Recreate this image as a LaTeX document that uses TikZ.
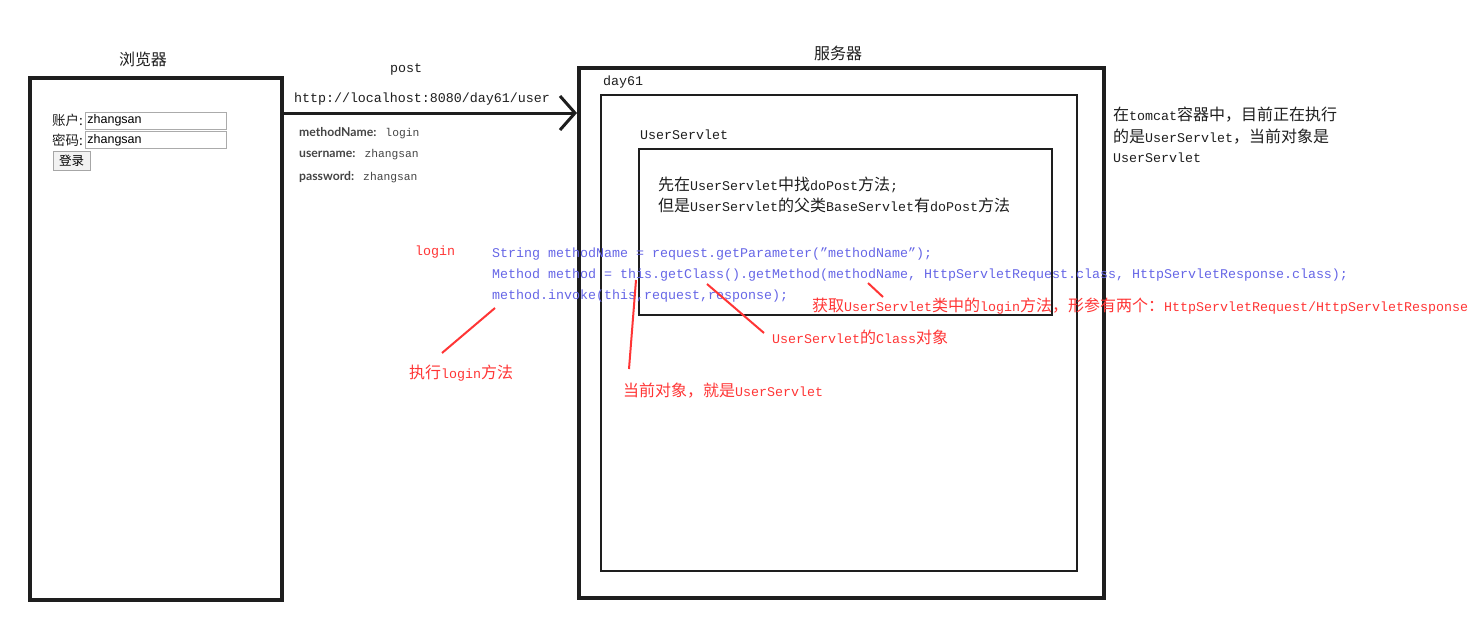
\documentclass[tikz,border=0pt]{standalone}
\usepackage{fontspec}
\setmainfont{Liberation Mono}
\setsansfont{Lato}
\newfontfamily\cjk[Scale=1.2]{Noto Sans CJK SC}
\newfontfamily\formcjk{Noto Sans CJK SC}
\newfontfamily\formfont{Liberation Sans}
\usetikzlibrary{arrows.meta,positioning}
\definecolor{ink}{HTML}{1E1E1E}
\definecolor{codeblue}{HTML}{6666E6}
\definecolor{notered}{HTML}{FF3535}
\definecolor{paramgray}{HTML}{454545}
\definecolor{fieldgray}{HTML}{ABABAB}
\newcommand{\zh}[1]{{\cjk #1}}

\begin{document}
\begin{tikzpicture}[
  x=1pt,y=-1pt,
  line join=miter,
  frame/.style={draw=ink,line width=4pt,fill=none,inner sep=0pt},
  subframe/.style={draw=ink,line width=2.5pt,fill=none,inner sep=0pt},
  label/.style={font=\fontsize{13.33}{16}\selectfont,text=ink,inner sep=0pt},
  lefttext/.style={label,anchor=west},
  code/.style={lefttext,text=codeblue},
  remark/.style={lefttext,text=notered},
  param/.style={anchor=west,inner sep=0pt,text=paramgray,font=\fontsize{11.3}{13}\selectfont},
  field/.style={draw=fieldgray,line width=.8pt,anchor=west,minimum width=141pt,minimum height=17pt,
    inner xsep=2pt,inner ysep=0pt,text width=137pt,align=left,font=\formfont\fontsize{12.5}{14}\selectfont},
  request/.style={draw=ink,line width=3pt,-{Straight Barb[length=15pt,width=34pt]}},
  pointer/.style={draw=notered,line width=2pt}
]
\useasboundingbox (0,0) rectangle (1477,627);

% browser side
\node[frame,minimum width=252pt,minimum height=522pt] (browser) at (156,339) {};
\node[label] (browsertitle) at (143,59) {\zh{浏览器}};
\node[anchor=west,inner sep=0pt,font=\formcjk\fontsize{13.5}{15}\selectfont,text=ink] (acctlbl) at (52,120) {账户:};
\node[anchor=west,inner sep=0pt,font=\formcjk\fontsize{13.5}{15}\selectfont,text=ink] (pwdlbl) at (52,140) {密码:};
\node[field] (acctfield) at (85,120.5) {zhangsan};
\node[field] (pwdfield) at (85,140) {zhangsan};
\node[draw=gray!70,fill=gray!10,line width=.8pt,minimum width=37pt,minimum height=19pt,inner sep=0pt,
  font=\formcjk\fontsize{12.5}{14}\selectfont] (loginbtn) at (71.5,160.5) {登录};

% request
\node[label] (method) at (406,69) {post};
\node[label] (url) at (422,99) {http://localhost:8080/day61/user};
\coordinate (reqline) at (0,113);
\node[param] (p1) at (299,133) {{\sffamily\bfseries\fontsize{12.2}{13}\selectfont methodName:} login};
\node[param] (p2) at (299,155) {{\sffamily\bfseries\fontsize{12.2}{13}\selectfont username:} zhangsan};
\node[param] (p3) at (299,177) {{\sffamily\bfseries\fontsize{12.2}{13}\selectfont password:} zhangsan};

% server side
\node[frame,minimum width=525pt,minimum height=530pt] (server) at (841.5,333) {};
\node[label] (servertitle) at (838,53) {\zh{服务器}};
\node[lefttext] (applbl) at (603,82) {day61};
\node[subframe,minimum width=476pt,minimum height=476pt] (app) at (839,333) {};
\node[lefttext] (servletlbl) at (640,135) {UserServlet};
\node[subframe,minimum width=413pt,minimum height=166pt] (servlet) at (845.5,232) {};
\node[lefttext] (find1) at (658,185) {\zh{先在}UserServlet\zh{中找}doPost\zh{方法};};
\node[lefttext] (find2) at (658,205) {\zh{但是}UserServlet\zh{的父类}BaseServlet\zh{有}doPost\zh{方法}};

\draw[request] (browser.east |- reqline) -- (server.west |- reqline);

% tomcat note
\node[lefttext] (tomcat1) at (1113,115) {\zh{在}tomcat\zh{容器中，目前正在执行}};
\node[lefttext] (tomcat2) at (1113,137) {\zh{的是}UserServlet\zh{，当前对象是}};
\node[lefttext] (tomcat3) at (1113,158) {UserServlet};

% code
\node[remark] (loginval) at (415,252) {login};
\node[code] (code1) at (492,254) {String methodName = request.getParameter("methodName");};
\node[code] (code2) at (492,275) {Method method = this.getClass().getMethod(methodName, HttpServletRequest.class, HttpServletResponse.class);};
\node[code] (code3) at (492,296) {method.invoke(this,request,response);};

% red remarks
\node[remark] (getmlbl) at (812,306) {\zh{获取}UserServlet\zh{类中的}login\zh{方法，形参有两个：}HttpServletRequest/HttpServletResponse};
\node[remark] (clslbl) at (772,337) {UserServlet\zh{的}Class\zh{对象}};
\node[remark] (selflbl) at (623,391) {\zh{当前对象，就是}UserServlet};
\node[remark] (runlbl) at (409,373) {\zh{执行}login\zh{方法}};

\coordinate (runtip) at (495,308);
\coordinate (runend) at (442,353);
\coordinate (selftip) at (636,280);
\coordinate (selfend) at (629,369);
\coordinate (clstip) at (707,284);
\coordinate (clsend) at (764,333);
\coordinate (getmtip) at (868,283);
\coordinate (getmend) at (883,297);
\draw[pointer] (runtip) -- (runend);
\draw[pointer] (selftip) -- (selfend);
\draw[pointer] (clstip) -- (clsend);
\draw[pointer] (getmtip) -- (getmend);

\end{tikzpicture}
\end{document}
